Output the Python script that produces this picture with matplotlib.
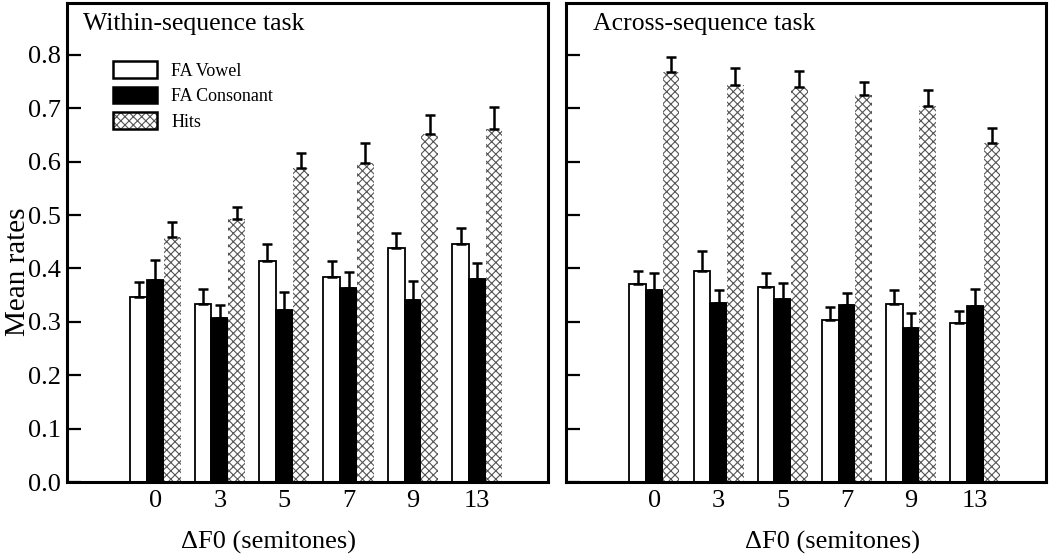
import matplotlib
matplotlib.use('Agg')
import matplotlib.pyplot as plt
import numpy as np
from matplotlib.patches import Patch
from matplotlib.legend_handler import HandlerTuple

plt.rcParams['font.family'] = ['Liberation Serif', 'DejaVu Serif']
plt.rcParams['hatch.linewidth'] = 0.8

semitones = ['0', '3', '5', '7', '9', '13']

# Within-sequence task
within_vowel = [0.347, 0.333, 0.414, 0.384, 0.439, 0.446]
within_vowel_err = [0.027, 0.029, 0.031, 0.029, 0.028, 0.030]
within_cons = [0.379, 0.307, 0.323, 0.364, 0.340, 0.380]
within_cons_err = [0.037, 0.024, 0.033, 0.030, 0.036, 0.030]
within_hits = [0.459, 0.493, 0.588, 0.597, 0.652, 0.662]
within_hits_err = [0.028, 0.022, 0.029, 0.037, 0.036, 0.041]

# Across-sequence task
across_vowel = [0.370, 0.396, 0.366, 0.304, 0.334, 0.298]
across_vowel_err = [0.025, 0.036, 0.026, 0.024, 0.026, 0.023]
across_cons = [0.360, 0.335, 0.342, 0.332, 0.288, 0.329]
across_cons_err = [0.031, 0.025, 0.030, 0.022, 0.028, 0.033]
across_hits = [0.767, 0.743, 0.740, 0.724, 0.705, 0.634]
across_hits_err = [0.029, 0.033, 0.029, 0.026, 0.030, 0.029]

fig = plt.figure(figsize=(10.5, 5.57), dpi=100)
ax1 = fig.add_axes([0.0635, 0.1346, 0.4585, 0.860])
ax2 = fig.add_axes([0.539, 0.1346, 0.457, 0.860])

x = np.arange(len(semitones))
w = 0.26
hatch_col = '#555555'
err_kw = dict(ecolor='black', elinewidth=1.8, capsize=3.4, capthick=1.8)


def draw_panel(ax, vowel, vowel_err, cons, cons_err, hits, hits_err, title, tx):
    z = np.zeros(len(x))
    ax.bar(x - w, vowel, w, color='white', edgecolor='black', linewidth=1.3,
           yerr=[z, vowel_err], error_kw=err_kw)
    ax.bar(x, cons, w, color='black', edgecolor='black', linewidth=1.3,
           yerr=[z, cons_err], error_kw=err_kw)
    ax.bar(x + w, hits, w, color='white', edgecolor=hatch_col, linewidth=0,
           hatch='xxxx', yerr=[z, hits_err], error_kw=err_kw)
    ax.set_xlim(-1.38, 6.10)
    ax.set_ylim(0, 0.897)
    ax.set_xticks(x)
    ax.set_xticklabels(semitones, fontsize=19)
    ax.set_yticks(np.arange(0, 0.81, 0.1))
    ax.tick_params(axis='x', length=0, pad=6)
    ax.tick_params(axis='y', direction='in', length=10, width=1.6, labelsize=19, pad=4)
    for s in ax.spines.values():
        s.set_linewidth(2.2)
    ax.text(tx, 0.98, title, transform=ax.transAxes, fontsize=18.5, va='top', ha='left')


draw_panel(ax1, within_vowel, within_vowel_err, within_cons, within_cons_err,
           within_hits, within_hits_err, 'Within-sequence task', 0.034)
draw_panel(ax2, across_vowel, across_vowel_err, across_cons, across_cons_err,
           across_hits, across_hits_err, 'Across-sequence task', 0.056)

ax1.set_yticklabels(['%.1f' % v for v in np.arange(0, 0.81, 0.1)])
ax2.set_yticklabels([])

ax1.text(0.42, -0.127, '\u0394F0 (semitones)', transform=ax1.transAxes,
         fontsize=19, ha='center', va='center')
ax2.text(0.556, -0.127, '\u0394F0 (semitones)', transform=ax2.transAxes,
         fontsize=19, ha='center', va='center')
ax1.text(-0.101, 0.438, 'Mean rates', transform=ax1.transAxes, fontsize=21,
         rotation=90, ha='center', va='center')

h1 = Patch(facecolor='white', edgecolor='black', linewidth=1.8)
h2 = Patch(facecolor='black', edgecolor='black', linewidth=1.8)
h3a = Patch(facecolor='white', edgecolor=hatch_col, linewidth=0, hatch='xxxx')
h3b = Patch(facecolor='none', edgecolor='black', linewidth=1.8)
ax1.legend([h1, h2, (h3a, h3b)], ['FA Vowel', 'FA Consonant', 'Hits'],
           handler_map={tuple: HandlerTuple(ndivide=1, pad=0)},
           loc='upper left', bbox_to_anchor=(0.096, 0.879), frameon=False,
           fontsize=13, handlelength=2.44, handleheight=1.05,
           labelspacing=0.4, handletextpad=0.8, borderpad=0, borderaxespad=0)

fig.savefig('out.png', dpi=100)
